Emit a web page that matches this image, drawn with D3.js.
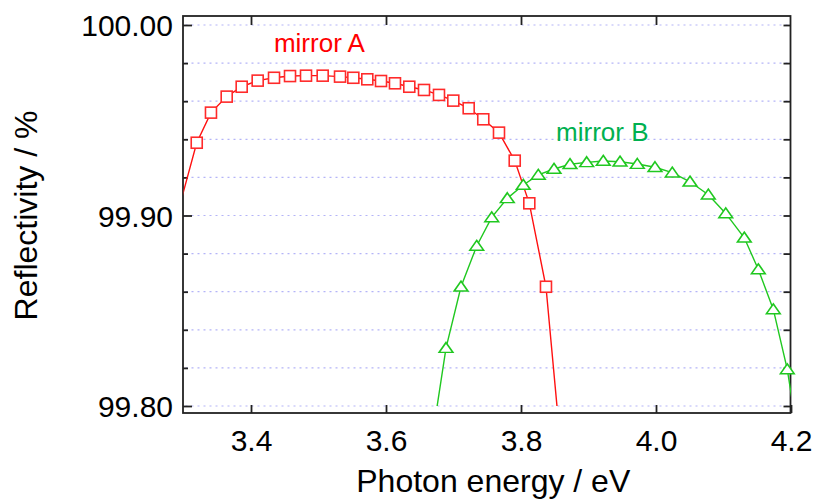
<!DOCTYPE html>
<html>
<head>
<meta charset="utf-8">
<script src="https://cdn.jsdelivr.net/npm/d3@7"></script>
<style>
  body {margin: 0; background: #fff;}
  svg text {font-family: "Liberation Sans", Arial, sans-serif; fill: #000;}
</style>
</head>
<body>
<div id="chart"></div>
<script>
//-- Data (first and last points only continue the line beyond the frame)
var energy_a = [3.2978, 3.3196, 3.3407, 3.3640, 3.3862, 3.4099, 3.4341, 3.4578, 3.4815, 3.5062, 3.5319,
  3.5516, 3.5723, 3.5926, 3.6133, 3.6345, 3.6563, 3.6785, 3.6997, 3.7225, 3.7441, 3.7674,
  3.7907, 3.8123, 3.8370, 3.8593];
var refl_a = [99.9097, 99.9382, 99.9540, 99.9624, 99.9676, 99.9708, 99.9723, 99.9732, 99.9734, 99.9734, 99.9729,
  99.9723, 99.9715, 99.9706, 99.9694, 99.9676, 99.9659, 99.9633, 99.9603, 99.9563, 99.9505, 99.9435,
  99.9288, 99.9064, 99.8626, 99.7769];

var energy_b = [3.6667, 3.6889, 3.7111, 3.7344, 3.7566, 3.7797, 3.8034, 3.8256, 3.8489, 3.8726, 3.8973,
  3.9219, 3.9467, 3.9723, 3.9985, 4.0241, 4.0504, 4.0775, 4.1033, 4.1308, 4.1516, 4.1738,
  4.1945, 4.2163];
var refl_b = [99.7790, 99.8304, 99.8626, 99.8840, 99.8990, 99.9090, 99.9160, 99.9213, 99.9244, 99.9269, 99.9279,
  99.9286, 99.9282, 99.9270, 99.9253, 99.9225, 99.9177, 99.9109, 99.9011, 99.8883, 99.8717, 99.8507,
  99.8192, 99.7700];

var x_ticks = [3.4, 3.6, 3.8, 4.0, 4.2];
var y_major = [99.80, 99.90, 100.00];
var y_minor = [99.82, 99.84, 99.86, 99.88, 99.92, 99.94, 99.96, 99.98];
var y_grid = [99.80, 99.82, 99.84, 99.86, 99.88, 99.90, 99.92, 99.94, 99.96, 99.98, 100.00];

var series_name = ['mirror A', 'mirror B'];
var label_x = [3.434, 3.852];
var label_y = [99.9858, 99.9391];

var x_label = 'Photon energy / eV';
var y_label = 'Reflectivity / %';

function RF_Make_Canvas(wrap) {
  var tot_width = 816;
  var tot_height = 499;
  var margin = {left: 183.5, right: 25, top: 25, bottom: 93};
  var width = tot_width - margin.left - margin.right;
  var height = tot_height - margin.top - margin.bottom;

  var svg = d3.select(wrap.id)
    .append("svg")
      .attr("width", tot_width)
      .attr("height", tot_height)
    .append("g")
      .attr("transform", "translate(" + margin.left + "," + margin.top + ")");

  wrap.margin = margin;
  wrap.width = width;
  wrap.height = height;
  wrap.svg = svg;
}

function RF_Format_Data(wrap) {
  var a = [], b = [], i;
  for (i=0; i<energy_a.length; i++) a.push({x: energy_a[i], y: refl_a[i]});
  for (i=0; i<energy_b.length; i++) b.push({x: energy_b[i], y: refl_b[i]});
  wrap.data = [a, b];
}

function RF_initialize(wrap) {
  var x = d3.scaleLinear()
    .domain([3.3, 4.2])
    .range([0, wrap.width]);

  var y = d3.scaleLinear()
    .domain([99.80, 100.00])
    .range([wrap.height, 0]);

  //-- Frame sits a little outside the data area
  var fr = {left: -0.5, right: wrap.width - 0.5, top: -9, bottom: wrap.height + 7};

  //-- Grid
  wrap.svg.selectAll(".grid")
    .data(y_grid)
    .enter()
    .append("line")
      .attr("class", "grid")
      .attr("x1", 2)
      .attr("x2", wrap.width - 2)
      .attr("y1", function (d) {return y(d);})
      .attr("y2", function (d) {return y(d);})
      .style("stroke", "#b4b4f8")
      .style("stroke-width", 1.2)
      .style("stroke-dasharray", "2,4")

  //-- Frame
  wrap.svg.append("rect")
    .attr("x", fr.left)
    .attr("y", fr.top)
    .attr("width", fr.right - fr.left)
    .attr("height", fr.bottom - fr.top)
    .style("fill", "none")
    .style("stroke", "#222")
    .style("stroke-width", 1.8)

  //-- Left axis, ticks pointing inward
  var y_axis = d3.axisLeft(y)
    .tickValues(y_major)
    .tickSize(-9)
    .tickPadding(10)
    .tickFormat(d3.format(".2f"));

  wrap.svg.append("g")
    .attr("class", "yaxis")
    .attr("transform", "translate(" + fr.left + ",0)")
    .call(y_axis)
    .call(function (g) {g.select(".domain").remove();})
    .selectAll("text")
      .style("font-size", "30px")
      .attr("dy", "0.36em")

  var y_axis_minor = d3.axisLeft(y)
    .tickValues(y_minor)
    .tickSize(-5)
    .tickFormat("");

  wrap.svg.append("g")
    .attr("transform", "translate(" + fr.left + ",0)")
    .call(y_axis_minor)
    .call(function (g) {g.select(".domain").remove();})

  //-- Right axis
  var y_axis_r = d3.axisRight(y)
    .tickValues(y_grid)
    .tickSize(-7)
    .tickFormat("");

  wrap.svg.append("g")
    .attr("transform", "translate(" + fr.right + ",0)")
    .call(y_axis_r)
    .call(function (g) {g.select(".domain").remove();})

  //-- Bottom axis
  var x_axis = d3.axisBottom(x)
    .tickValues(x_ticks)
    .tickSize(-8)
    .tickPadding(17)
    .tickFormat(d3.format(".1f"));

  wrap.svg.append("g")
    .attr("class", "xaxis")
    .attr("transform", "translate(0," + fr.bottom + ")")
    .call(x_axis)
    .call(function (g) {g.select(".domain").remove();})
    .selectAll("text")
      .style("font-size", "30px")

  //-- Top axis
  var x_axis_t = d3.axisTop(x)
    .tickValues(x_ticks.slice(0, 4))
    .tickSize(-9)
    .tickFormat("");

  wrap.svg.append("g")
    .attr("transform", "translate(0," + fr.top + ")")
    .call(x_axis_t)
    .call(function (g) {g.select(".domain").remove();})

  wrap.svg.selectAll(".tick line")
    .style("stroke", "#222")
    .style("stroke-width", 1.8)

  //-- Clip for the lines
  wrap.svg.append("clipPath")
    .attr("id", "clip")
    .append("rect")
      .attr("x", 0)
      .attr("y", 0)
      .attr("width", wrap.width)
      .attr("height", wrap.height)

  var line = d3.line()
    .x(function (d) {return x(d.x);})
    .y(function (d) {return y(d.y);});

  var line_color = ['#ff1010', '#20c820'];

  wrap.svg.selectAll(".curve")
    .data(wrap.data)
    .enter()
    .append("path")
      .attr("class", "curve")
      .attr("clip-path", "url(#clip)")
      .attr("d", line)
      .style("fill", "none")
      .style("stroke", function (d, i) {return line_color[i];})
      .style("stroke-width", 1.4)

  var in_range = function (d) {return d.x >= 3.3 && d.x <= 4.2 && d.y >= 99.8;};

  //-- Squares
  wrap.svg.selectAll(".square")
    .data(wrap.data[0].filter(in_range))
    .enter()
    .append("rect")
      .attr("class", "square")
      .attr("x", function (d) {return x(d.x) - 5.5;})
      .attr("y", function (d) {return y(d.y) - 5.5;})
      .attr("width", 11)
      .attr("height", 11)
      .style("fill", "#fff")
      .style("stroke", "#ff2a2a")
      .style("stroke-width", 1.6)

  //-- Triangles
  var tri = d3.symbol().type(d3.symbolTriangle).size(62);

  wrap.svg.selectAll(".triangle")
    .data(wrap.data[1].filter(in_range))
    .enter()
    .append("path")
      .attr("class", "triangle")
      .attr("d", tri)
      .attr("transform", function (d) {return "translate(" + x(d.x) + "," + (y(d.y) + 1) + ") scale(1.15,0.95)";})
      .style("fill", "#fff")
      .style("stroke", "#20c820")
      .style("stroke-width", 1.5)

  //-- Series labels
  var label_color = ['#ff0000', '#00b050'];

  wrap.svg.selectAll(".name")
    .data(series_name)
    .enter()
    .append("text")
      .attr("class", "name")
      .attr("x", function (d, i) {return x(label_x[i]);})
      .attr("y", function (d, i) {return y(label_y[i]);})
      .style("font-size", "26px")
      .style("fill", function (d, i) {return label_color[i];})
      .text(function (d) {return d;})

  //-- Axis titles
  wrap.svg.append("text")
    .attr("x", wrap.width / 2 + 6)
    .attr("y", wrap.height + 86)
    .attr("text-anchor", "middle")
    .style("font-size", "32px")
    .text(x_label)

  wrap.svg.append("text")
    .attr("transform", "translate(" + (-wrap.margin.left + 37) + "," + (wrap.height / 2) + ") rotate(-90)")
    .attr("text-anchor", "middle")
    .style("font-size", "32px")
    .text(y_label)
}

var wrap = {id: "#chart"};
RF_Make_Canvas(wrap);
RF_Format_Data(wrap);
RF_initialize(wrap);
</script>
</body>
</html>
